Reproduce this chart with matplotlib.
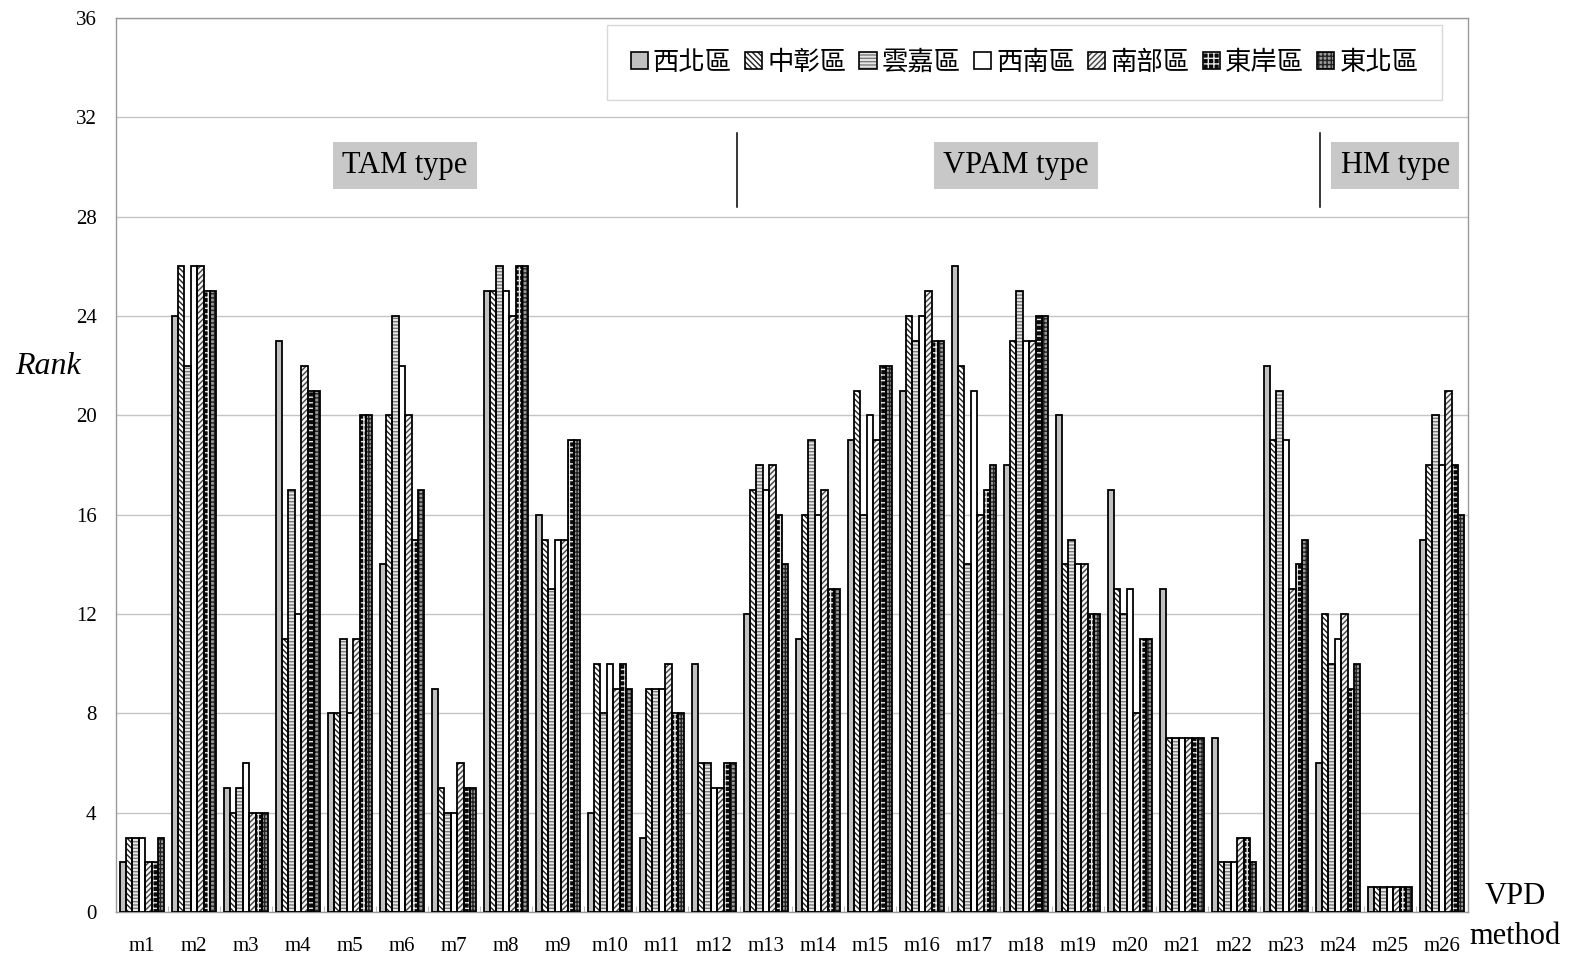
import matplotlib
matplotlib.use("Agg")
import matplotlib.pyplot as plt
import numpy as np
from matplotlib.patches import Patch
from matplotlib.legend_handler import HandlerTuple

methods = [f"m{i}" for i in range(1, 27)]
regions = ["西北區", "中彰區", "雲嘉區", "西南區", "南部區", "東岸區", "東北區"]

northwest = [2, 24, 5, 23, 8, 14, 9, 25, 16, 4, 3, 10, 12, 11, 19, 21, 26, 18, 20, 17, 13, 7, 22, 6, 1, 15]
zhongzhang = [3, 26, 4, 11, 8, 20, 5, 25, 15, 10, 9, 6, 17, 16, 21, 24, 22, 23, 14, 13, 7, 2, 19, 12, 1, 18]
yunjia = [3, 22, 5, 17, 11, 24, 4, 26, 13, 8, 9, 6, 18, 19, 16, 23, 14, 25, 15, 12, 7, 2, 21, 10, 1, 20]
southwest = [3, 26, 6, 12, 8, 22, 4, 25, 15, 10, 9, 5, 17, 16, 20, 24, 21, 23, 14, 13, 7, 2, 19, 11, 1, 18]
south = [2, 26, 4, 22, 11, 20, 6, 24, 15, 9, 10, 5, 18, 17, 19, 25, 16, 23, 14, 8, 7, 3, 13, 12, 1, 21]
east = [2, 25, 4, 21, 20, 15, 5, 26, 19, 10, 8, 6, 16, 13, 22, 23, 17, 24, 12, 11, 7, 3, 14, 9, 1, 18]
northeast = [3, 25, 4, 21, 20, 17, 5, 26, 19, 9, 8, 6, 14, 13, 22, 23, 18, 24, 12, 11, 7, 2, 15, 10, 1, 16]
series = [northwest, zhongzhang, yunjia, southwest, south, east, northeast]

type_labels = ["TAM type", "VPAM type", "HM type"]
yticks = list(range(0, 37, 4))

# styles: facecolor, hatch, hatchcolor
styles = [
    ("#c0c0c0", None, "#c0c0c0"),
    ("white", "\\\\\\\\\\\\", "#222222"),
    ("#e6e6e6", "-----", "#7a7a7a"),
    ("white", None, "white"),
    ("#f4f4f4", "//////", "#444444"),
    ("#0a0a0a", "+++", "#e8e8e8"),
    ("#9a9a9a", "++++", "#222222"),
]

plt.rcParams['hatch.linewidth'] = 1.0
serif = "Liberation Serif"

fig = plt.figure(figsize=(15.77, 9.58), dpi=100)
ax = fig.add_axes([116 / 1577, 46 / 958, 1352 / 1577, 894 / 958])

n = len(methods)
x = np.arange(n)
w = 0.122
handles = []
for j, vals in enumerate(series):
    face, hatch, hc = styles[j]
    off = (j - 3) * w
    ax.bar(x + off, vals, w, color=face, edgecolor=hc, hatch=hatch, linewidth=0, zorder=2)
    ax.bar(x + off, vals, w, fill=False, edgecolor="black", linewidth=1.3, zorder=3)
    p1 = Patch(facecolor=face, edgecolor=hc, hatch=hatch, linewidth=0)
    p2 = Patch(fill=False, edgecolor="black", linewidth=1.2)
    handles.append((p1, p2))

ax.set_xlim(-0.5, n - 0.5)
ax.set_ylim(0, 36)
ax.set_yticks(yticks)
ax.set_yticklabels([str(v) for v in yticks], fontfamily=serif, fontsize=15)
ax.set_xticks(x)
ax.set_xticklabels(methods, fontfamily=serif, fontsize=15)
ax.set_xticks(np.arange(-0.5, n, 1), minor=True)
ax.tick_params(axis="x", which="major", length=0, pad=18)
ax.tick_params(axis="x", which="minor", length=4, direction="in", color="#b0b0b0")
ax.tick_params(axis="y", length=0, pad=14)
ax.grid(axis="y", color="#c4c4c4", linewidth=1.0, zorder=0)
ax.set_axisbelow(True)
for s in ax.spines.values():
    s.set_color("#9a9a9a")
    s.set_linewidth(1.0)

ax.text(-0.05, 0.61, "Rank", transform=ax.transAxes, fontfamily=serif, fontsize=23,
        fontstyle="italic", ha="center", va="center")
fig.text(1515 / 1577, 1 - 897 / 958, "VPD", fontfamily=serif, fontsize=22, ha="center", va="center")
fig.text(1515 / 1577, 1 - 937 / 958, "method", fontfamily=serif, fontsize=22, ha="center", va="center")

box = dict(boxstyle="square,pad=0.3", facecolor="#c8c8c8", edgecolor="none")
for lab, xp in zip(type_labels, [5.06, 16.8, 24.1]):
    ax.text(xp, 30.05, lab, fontfamily=serif, fontsize=22, ha="center", va="center", bbox=box, zorder=5)
for xv in [11.45, 22.65]:
    ax.plot([xv, xv], [28.4, 31.35], color="black", linewidth=1.1, zorder=5)

leg = ax.legend(handles, regions, handler_map={tuple: HandlerTuple(ndivide=1, pad=0)},
                loc="upper left", bbox_to_anchor=(0.363, 0.992, 0.618, 0.0), mode="expand",
                ncol=7, prop={"family": ["Noto Sans CJK TC", "DejaVu Sans"], "size": 19,
                              "weight": "light"},
                frameon=True, fancybox=False, edgecolor="#cfcfcf", borderpad=0.9,
                handlelength=0.65, handleheight=0.65, handletextpad=0.2, columnspacing=0.4,
                borderaxespad=0.0)
leg.get_frame().set_linewidth(1.0)

fig.savefig("out.png", dpi=100)
